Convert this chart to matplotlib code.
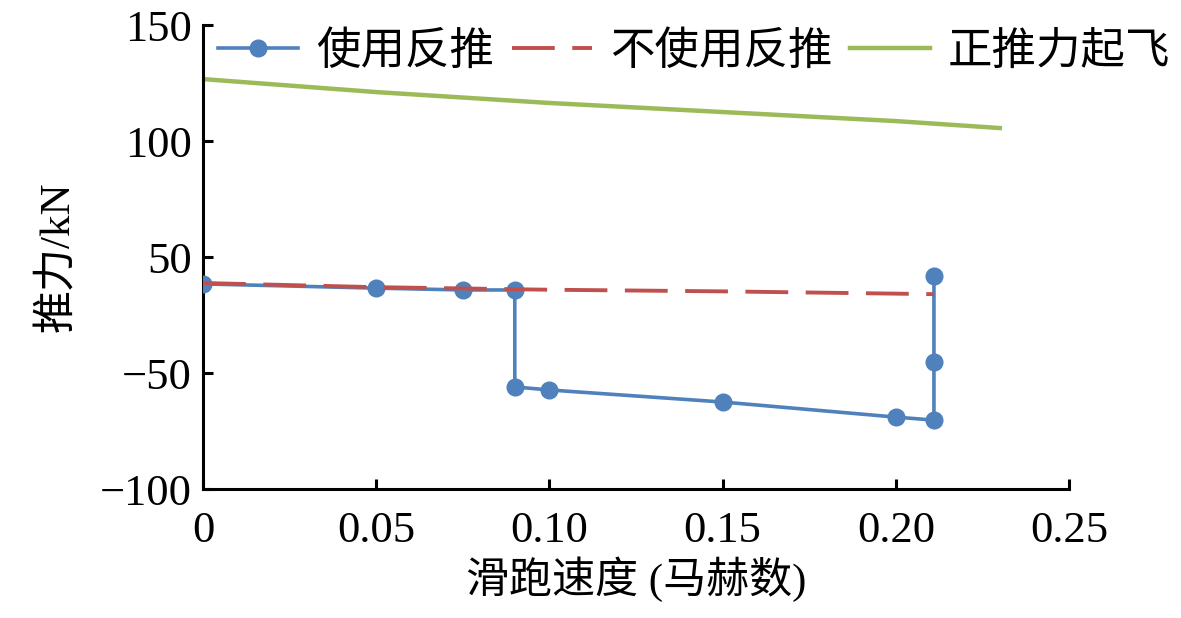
import numpy as np
import matplotlib.pyplot as plt

plt.rcParams['font.family'] = ['Liberation Serif', 'Noto Sans CJK SC']
plt.rcParams['axes.unicode_minus'] = True

# 使用反推
mach_rev = [0, 0.05, 0.075, 0.09, 0.09, 0.10, 0.15, 0.20, 0.211, 0.211, 0.211]
thrust_rev = [38.4, 36.6, 35.8, 35.8, -6.0, -7.3, -12.5, -19.0, -20.3, 4.7, 41.8]

# 不使用反推
mach_norev = [0, 0.05, 0.10, 0.15, 0.211]
thrust_norev = [38.8, 37.0, 35.9, 35.2, 34.0]

# 正推力起飞
mach_to = [0, 0.05, 0.10, 0.15, 0.20, 0.23]
thrust_to = [126.7, 121.1, 116.4, 112.5, 108.6, 105.6]

yticks = [-50, 0, 50, 100, 150]
ytick_labels = ['−100', '−50', '50', '100', '150']
xticks = [0, 0.05, 0.10, 0.15, 0.20, 0.25]
xtick_labels = ['0', '0.05', '0.10', '0.15', '0.20', '0.25']

fig = plt.figure(figsize=(11.81, 6.18), dpi=100)
ax = fig.add_axes([0.1719, 0.2087, 0.7333, 0.7508])

l1, = ax.plot(mach_rev, thrust_rev, color='#4F81BD', lw=2.6, marker='o',
              markersize=12, label='使用反推', zorder=3)
l2, = ax.plot(mach_norev, thrust_norev, color='#C0504D', lw=2.8,
              dashes=(11, 4.5), label='不使用反推', zorder=4)
l3, = ax.plot(mach_to, thrust_to, color='#9BBB59', lw=3.2, label='正推力起飞')

ax.set_xlim(0, 0.25)
ax.set_ylim(-50, 150)
ax.set_xticks(xticks)
ax.set_xticklabels(xtick_labels)
ax.set_yticks(yticks)
ax.set_yticklabels(ytick_labels)
ax.spines['top'].set_visible(False)
ax.spines['right'].set_visible(False)
for s in ['left', 'bottom']:
    ax.spines[s].set_linewidth(2.2)
ax.tick_params(direction='in', length=7, width=2.2, labelsize=32, pad=8)
ax.tick_params(axis='x', pad=16)

ax.set_xlabel('滑跑速度 (马赫数)', fontsize=31, labelpad=4)
ax.set_ylabel('推力/kN', fontsize=31, labelpad=16)

fig.legend(handles=[l1, l2, l3], loc='center', bbox_to_anchor=(0.588, 0.916),
           ncol=3, frameon=False, fontsize=32, handlelength=1.8,
           handletextpad=0.4, columnspacing=0.4)

fig.savefig('out.png', dpi=100)
